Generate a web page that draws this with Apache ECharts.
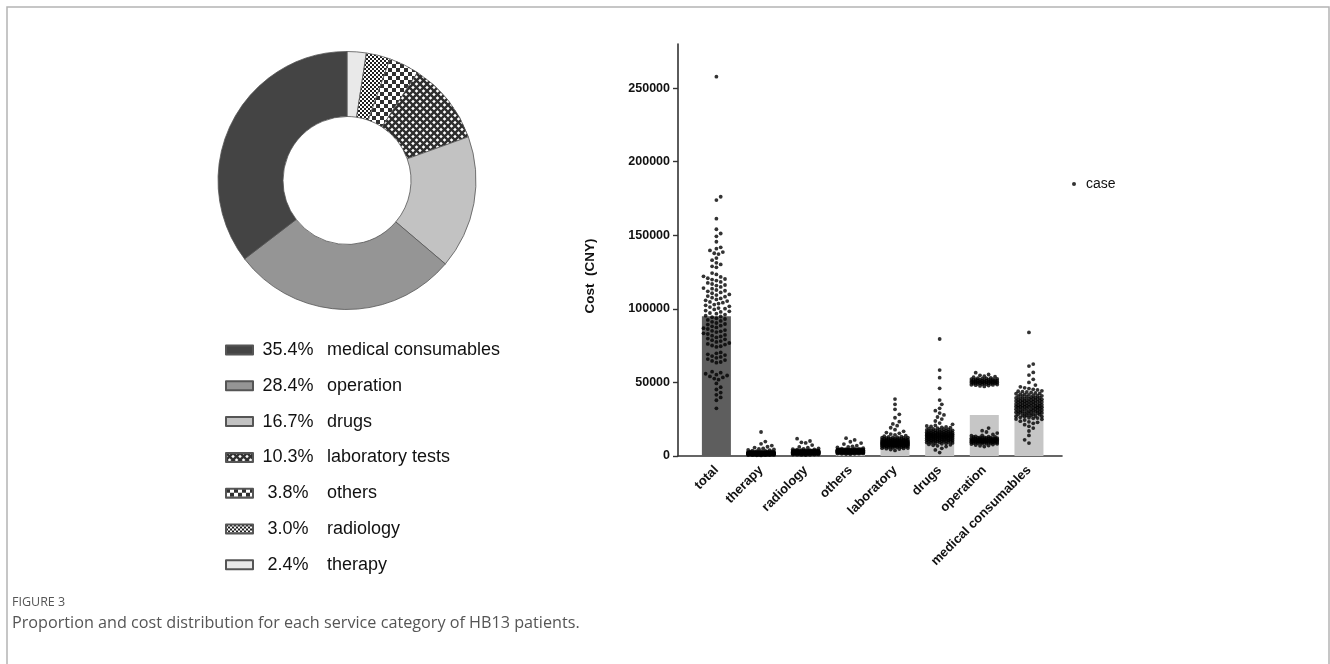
<!DOCTYPE html>
<html>
<head>
<meta charset="utf-8">
<script src="https://cdn.jsdelivr.net/npm/echarts@6.0.0/dist/echarts.min.js"></script>
<style>
  html, body { margin: 0; padding: 0; background: #fff; }
  #chart { width: 1330px; height: 664px; }
</style>
</head>
<body>
<div id="chart"></div>
<script>
// Share of total cost by service category (donut, legend order)
const shareNames = ['medical consumables', 'operation', 'drugs', 'laboratory tests', 'others', 'radiology', 'therapy'];
const shareValues = [35.4, 28.4, 16.7, 10.3, 3.8, 3.0, 2.4];

// Cost distribution per case (scatter over mean bars)
const categories = ['total', 'therapy', 'radiology', 'others', 'laboratory', 'drugs', 'operation', 'medical consumables'];
const meanCost = [95000, 2300, 2900, 3600, 9300, 15600, 27800, 34000];
const yTicks = [0, 50000, 100000, 150000, 200000, 250000];

const totalCost = [
  257800, 176200, 173900, 161300, 154100, 151200, 149300, 145600,
  141800, 140900, 139700, 138600, 137800, 137200,
  134500, 133100, 131300, 130200, 128900, 128200,
  124300, 123400, 122100, 121700, 120800, 120300, 119900, 119200,
  118300, 117600, 116900, 116200, 115800, 114900, 114100, 113700, 112800, 112300, 111900, 111200,
  110600, 109800, 109400, 108700, 108300, 107600, 107100, 106400, 105800, 105300, 104700, 104200, 103600,
  102900, 102400, 101700, 101200, 100500, 100100, 99600, 98800, 98300, 97900, 97200, 96700, 96100,
  95400, 94800, 94300, 93600, 93100, 92500, 91800, 91200,
  90400, 89700, 89300, 88600, 88100, 87400, 86900, 86300, 85600, 85100, 84700, 84200, 83400, 82900, 82300, 81800, 81200, 80600,
  79800, 79300, 78700, 78100, 77500, 76800, 76200, 75700, 75100, 74600, 74100,
  70400, 69800, 69100, 68600, 67900, 67300, 66700, 65900, 65200, 64600, 63900, 63400,
  57300, 56600, 55900, 55300, 54700, 54100, 53400, 52600, 51900,
  49300, 46800, 45200, 43100, 41600, 39800, 37900,
  32400
];
const therapyCost = [
  1820, 2410, 960, 1370, 3100, 2250, 1540, 780, 1960, 2730,
  1180, 16300, 2050, 1460, 890, 2600, 1730, 3480, 1250, 2140,
  650, 1890, 2320, 1010, 4420, 1620, 2870, 1330, 2080, 540,
  1760, 2490, 1110, 9800, 1940, 1420, 2210, 830, 3250, 1680,
  2560, 1290, 1850, 720, 2010, 5200, 1570, 2380, 1060, 1910,
  2690, 1390, 450, 1780, 2170, 1220, 3640, 1500, 2030, 920,
  2290, 1640, 7100, 1350, 2450, 1030, 1870, 2790, 1190, 610,
  1990, 1480, 2340, 870, 3920, 1710, 2120, 1270, 2620, 1560,
  380, 1830, 2260, 1140, 6300, 1440, 2940, 1980, 1080, 1660,
  2530, 760, 2060, 1310, 4780, 1590, 2190, 990, 1800, 2420,
  1230, 3010, 1700, 580, 2100, 1400, 8300, 1920, 2670, 1160,
  1520, 2300, 840, 1860, 3370, 1260, 2000, 1610, 2840, 1050,
  1750, 2480, 1340, 5700, 1950, 1470, 2200, 940, 4100, 1690,
  2360, 1200
];
const radiologyCost = [
  2350, 3120, 1480, 2760, 4050, 1890, 2980, 1240, 3560, 2210,
  11800, 2640, 1720, 3330, 900, 2470, 3870, 1960, 2810, 1350,
  3010, 2180, 4420, 1610, 2920, 1090, 3440, 2520, 1830, 8900,
  2700, 1400, 3210, 2040, 4850, 1570, 2590, 3690, 1170, 2290,
  3080, 1930, 2750, 760, 3390, 2110, 5600, 1680, 2880, 2430,
  1270, 3610, 2000, 2680, 1520, 3150, 7400, 1850, 2560, 3960,
  1030, 2330, 2950, 1760, 3270, 2140, 630, 2840, 1990, 3500,
  2480, 1440, 3050, 6200, 2220, 1640, 2790, 3740, 1310, 2600,
  1910, 3180, 2380, 850, 4300, 1790, 2910, 2060, 3410, 1550,
  2720, 10200, 1880, 2510, 3290, 1190, 2260, 3830, 1700, 2990,
  2160, 1420, 3110, 5100, 2410, 1960, 2650, 960, 3540, 2090,
  1600, 2860, 3360, 1830, 2550, 4650, 1250, 3020, 2200, 1740,
  2940, 2440, 1380, 3220, 9300, 2020, 2700, 1120, 3650, 1920,
  2580, 2300
];
const othersCost = [
  3450, 2810, 4120, 1960, 3620, 2390, 4780, 3070, 1540, 3880,
  12100, 2670, 3290, 4450, 2130, 3740, 2950, 1800, 4010, 3160,
  2480, 5300, 3520, 2240, 3930, 1370, 3060, 4620, 2790, 3380,
  9700, 2560, 4200, 3010, 1990, 3710, 2870, 4360, 2330, 3240,
  6100, 2690, 3810, 1650, 3470, 2920, 4070, 2410, 3560, 8100,
  3130, 2040, 3990, 2760, 4540, 3320, 1480, 3660, 2590, 4260,
  3020, 2180, 7000, 3850, 2840, 3400, 1890, 4150, 2520, 3580,
  3210, 4880, 2300, 3760, 2740, 3950, 1720, 3350, 10900, 2930,
  4030, 2460, 3540, 2110, 3690, 5800, 2880, 3280, 4410, 2620,
  3830, 1260, 3180, 2970, 4240, 2370, 3620, 3070, 6600, 2710,
  3490, 4090, 2200, 3900, 2800, 3430, 1930, 4700, 3090, 2540,
  3740, 3250, 4320, 2060, 3590, 2900, 5000, 2430, 3700, 3150,
  4190, 2650, 3360, 1590, 3870, 2990, 4500, 2260, 3520, 8800,
  2780, 3300
];
const laboratoryCost = [
  8450, 11200, 6730, 9580, 13100, 7420, 10350, 5870, 12400, 8910,
  38700, 7080, 9940, 6210, 10880, 15400, 8230, 11650, 4950, 9320,
  35100, 7760, 10120, 8640, 13800, 6480, 9150, 11930, 5410, 8020,
  31700, 10560, 7310, 9740, 12850, 6950, 8770, 16800, 10240, 7590,
  28300, 9060, 11420, 6020, 8360, 14400, 7870, 10690, 9430, 5130,
  23300, 8560, 12080, 7190, 9860, 6590, 11090, 8140, 17900, 9670,
  6850, 10430, 7950, 12700, 4380, 9220, 8690, 11510, 7500, 10010,
  20600, 6320, 9510, 8290, 13450, 7040, 10780, 8840, 5640, 9780,
  11870, 7650, 19200, 8410, 10160, 6700, 9380, 12250, 7830, 8980,
  3760, 10950, 7260, 9620, 15900, 8060, 11300, 6410, 9890, 8520,
  7370, 12950, 5950, 10520, 8730, 14900, 7120, 9270, 11040, 6170,
  8600, 10290, 7700, 21800, 9000, 6900, 11760, 8200, 10070, 5290,
  9470, 7930, 12550, 8380, 26000, 6640, 10840, 9130, 7550, 11590,
  8870, 4700
];
const drugsCost = [
  14200, 11850, 16700, 9430, 13100, 18900, 12450, 7860, 15300, 10900,
  79500, 13800, 17450, 11200, 20100, 8650, 14750, 12900, 16050, 10350,
  58400, 15800, 9950, 13450, 19200, 11600, 6420, 14900, 17900, 12150,
  53200, 10700, 16400, 13250, 8900, 15050, 20800, 11950, 14400, 9600,
  46000, 17100, 12700, 15600, 7300, 13650, 18400, 10150, 14050, 16900,
  38000, 11400, 13950, 5200, 15950, 12300, 19700, 9150, 14600, 17600,
  35100, 12850, 10500, 16250, 8250, 13350, 11750, 18150, 15150, 9850,
  32400, 14300, 21500, 12550, 16550, 10850, 13750, 7650, 15450, 11150,
  30800, 17350, 13050, 9250, 14850, 12050, 19500, 15750, 10650, 13550,
  29200, 16150, 8450, 14150, 11550, 17750, 12600, 4100, 15250, 10050,
  27900, 13200, 18650, 11300, 14650, 9750, 16800, 12950, 6900, 15550,
  26500, 10400, 14000, 17200, 12250, 20400, 11050, 15900, 13300, 9000,
  25100, 16400, 12750, 18200, 10250, 14500, 2300, 13850, 23800, 22400,
  11700, 15000
];
const operationCost = [
  50200, 51300, 49100, 52400, 50700, 48600, 51800, 49800, 53100, 50400,
  47900, 52000, 49400, 51100, 50900, 48300, 52700, 49600, 51500, 50100,
  54200, 49000, 50600, 51900, 48800, 52300, 50300, 49300, 55400, 51200,
  47300, 50800, 52900, 49700, 51600, 48400, 50000, 53600, 49900, 51000,
  56600, 48100, 52200, 50500, 49200, 51400, 53900, 48900, 50900, 52600,
  49500, 51700, 47600, 50300, 54800, 49800,
  10400, 11800, 9300, 12600, 10900, 8700, 11300, 9900, 13400, 10100,
  7800, 12200, 10700, 9500, 11600, 19000, 10200, 8900, 12900, 11000,
  9700, 14600, 10500, 8300, 11900, 9100, 12400, 10800, 6900, 11400,
  9600, 13100, 10300, 8500, 11700, 17200, 10000, 9200, 12100, 10600,
  8100, 11200, 9800, 13800, 10400, 7400, 12700, 9400, 11500, 10900,
  15600, 9000, 12300, 10200, 8800, 11100, 9900, 13000, 7100, 10700,
  11800, 9500, 12500, 10300, 8600, 16300, 10100, 9300, 11300, 6400,
  12000, 10600, 8400, 11600, 9700, 14000
];
const consumablesCost = [
  34500, 29800, 38200, 25600, 41300, 32100, 36900, 27400, 43800, 30700,
  84000, 35600, 22900, 39500, 33300, 28600, 44900, 31500, 37400, 26300,
  62500, 40600, 34000, 24400, 36200, 30100, 42500, 28100, 38800, 33700,
  61100, 27000, 35100, 45800, 31000, 39100, 23700, 37000, 29300, 41900,
  56800, 32600, 36500, 21300, 40000, 34800, 27800, 43200, 30400, 38500,
  55000, 25100, 33900, 37800, 29000, 42000, 35400, 31800, 20200, 39800,
  52100, 36700, 28400, 44300, 32900, 26800, 40900, 34200, 30000, 37200,
  50000, 19000, 38000, 31200, 42800, 35800, 24900, 33000, 46300, 29500,
  48200, 37600, 32400, 27200, 41000, 34600, 22200, 39400, 36000, 30900,
  47000, 17000, 35200, 43500, 28800, 38900, 33500, 26000, 40300, 31700,
  14000, 36400, 29900, 44000, 34100, 23200, 39000, 32300, 37900, 27600,
  11000, 41600, 35000, 30200, 45300, 33100, 28300, 38300, 25800, 36800,
  8800, 42300, 31400, 39700, 34400, 26600, 37100, 29700, 40700, 33600,
  32800, 35300
];
const caseCosts = [totalCost, therapyCost, radiologyCost, othersCost, laboratoryCost, drugsCost, operationCost, consumablesCost];

// ---- layout of the bar/scatter panel ----
const W = 1330, H = 664;
const GRID = { left: 678, right: 268, top: 44, bottom: 208 };
const X_MIN = -0.86, X_MAX = 7.74, Y_MAX = 280000;
const pxPerX = (W - GRID.left - GRID.right) / (X_MAX - X_MIN);
const pxPerY = (H - GRID.top - GRID.bottom) / Y_MAX;

// Beeswarm placement: spread points sideways so they do not overlap,
// capped at the bar half-width (dense groups then pile up).
function swarm(values, catIndex) {
  const D = 4.3, STEP = 2.15, MAXW = 14;
  const sorted = values.slice().sort((a, b) => a - b);
  const placed = [];
  const out = [];
  sorted.forEach((v, n) => {
    const py = v * pxPerY;
    const sign = n % 2 === 0 ? 1 : -1;
    let best = 0, bestScore = -1, found = false;
    for (let k = 0; k * STEP <= MAXW && !found; k++) {
      const cands = k === 0 ? [0] : [sign * k * STEP, -sign * k * STEP];
      for (const dx of cands) {
        let minD = Infinity;
        for (const p of placed) {
          if (Math.abs(p.y - py) < D) {
            const dd = Math.hypot(p.x - dx, p.y - py);
            if (dd < minD) minD = dd;
          }
        }
        if (minD >= D) { best = dx; found = true; break; }
        if (minD > bestScore) { bestScore = minD; best = dx; }
      }
    }
    placed.push({ x: best, y: py });
    out.push([catIndex + best / pxPerX, v]);
  });
  return out;
}

// ---- fill patterns for the small donut slices ----
function makePattern(kind) {
  const c = document.createElement('canvas');
  const ctx = c.getContext('2d');
  if (kind === 'fine') {
    c.width = c.height = 4;
    ctx.fillStyle = '#fff'; ctx.fillRect(0, 0, 4, 4);
    ctx.fillStyle = '#1e1e1e';
    ctx.fillRect(0, 0, 2, 2); ctx.fillRect(2, 2, 2, 2);
  } else if (kind === 'check') {
    c.width = c.height = 8;
    ctx.fillStyle = '#fff'; ctx.fillRect(0, 0, 8, 8);
    ctx.fillStyle = '#303030';
    ctx.fillRect(0, 0, 4, 4); ctx.fillRect(4, 4, 4, 4);
  } else {
    c.width = c.height = 7;
    ctx.fillStyle = '#fff'; ctx.fillRect(0, 0, 7, 7);
    ctx.strokeStyle = '#2e2e2e'; ctx.lineWidth = 2.4;
    ctx.beginPath();
    ctx.moveTo(-1, -1); ctx.lineTo(8, 8);
    ctx.moveTo(-1, 8); ctx.lineTo(8, -1);
    ctx.stroke();
  }
  return { image: c, repeat: 'repeat' };
}

const sliceFill = {
  'medical consumables': '#444444',
  'operation': '#959595',
  'drugs': '#c2c2c2',
  'laboratory tests': makePattern('lattice'),
  'others': makePattern('check'),
  'radiology': makePattern('fine'),
  'therapy': '#e9e9e9'
};

// donut runs clockwise from 12 o'clock starting with the smallest share
const pieData = shareNames.map((name, i) => ({
  name, value: shareValues[i], itemStyle: { color: sliceFill[name] }
})).reverse();

const barData = meanCost.map((v, i) => ({
  value: [i, v],
  itemStyle: { color: i === 0 ? '#5e5e5e' : '#c6c6c6' }
}));

let scatterData = [];
caseCosts.forEach((vals, i) => { scatterData = scatterData.concat(swarm(vals, i)); });

const FONT = '"Liberation Sans", Arial, Helvetica, sans-serif';

const chart = echarts.init(document.getElementById('chart'), null, { renderer: 'canvas', width: W, height: H });
chart.setOption({
  animation: false,
  backgroundColor: '#ffffff',
  title: [
    { text: 'FIGURE 3', left: 7, top: 591,
      textStyle: { fontFamily: '"Open Sans", sans-serif', fontSize: 12.5, fontWeight: 'normal', color: '#555' } },
    { text: 'Proportion and cost distribution for each service category of HB13 patients.', left: 7, top: 610,
      textStyle: { fontFamily: '"Open Sans", sans-serif', fontSize: 16.2, fontWeight: 'normal', color: '#555' } }
  ],
  legend: [
    {
      data: shareNames, orient: 'vertical', left: 220, top: 335,
      icon: 'rect', itemWidth: 27, itemHeight: 9, itemGap: 15.8,
      selectedMode: false,
      formatter: name => '{p|' + shareValues[shareNames.indexOf(name)].toFixed(1) + '%}{n|' + name + '}',
      textStyle: {
        fontFamily: FONT, fontSize: 18, color: '#111', lineHeight: 20,
        rich: {
          p: { width: 60, align: 'right', fontFamily: FONT, fontSize: 18, color: '#111' },
          n: { padding: [0, 0, 0, 9], fontFamily: FONT, fontSize: 18, color: '#111' }
        }
      }
    },
    {
      data: ['case'], left: 1067, top: 172, icon: 'circle',
      itemWidth: 4, itemHeight: 4, selectedMode: false,
      textStyle: { fontFamily: FONT, fontSize: 14, color: '#111', padding: [0, 0, 0, 5] }
    }
  ],
  grid: { left: GRID.left, right: GRID.right, top: GRID.top, bottom: GRID.bottom, containLabel: false },
  xAxis: {
    type: 'value', min: X_MIN, max: X_MAX,
    axisLine: { show: true, onZero: false, lineStyle: { color: '#333', width: 1.6 } },
    axisTick: { show: false },
    splitLine: { show: false },
    axisLabel: {
      customValues: categories.map((c, i) => i),
      formatter: v => categories[Math.round(v)],
      rotate: 45, margin: 12,
      fontFamily: FONT, fontSize: 13, fontWeight: 'bold', color: '#111'
    }
  },
  yAxis: {
    type: 'value', min: 0, max: Y_MAX, interval: 50000,
    axisLine: { show: true, onZero: false, lineStyle: { color: '#333', width: 1.6 } },
    axisTick: { show: true, length: 5, customValues: yTicks, lineStyle: { color: '#333', width: 1.4 } },
    splitLine: { show: false },
    axisLabel: {
      customValues: yTicks, margin: 8,
      formatter: v => String(v),
      fontFamily: FONT, fontSize: 12.5, fontWeight: 'bold', color: '#111'
    }
  },
  graphic: [
    { type: 'polyline', silent: true,
      shape: { points: [[7, H], [7, 7], [1329, 7], [1329, H]] },
      style: { stroke: '#b4b4b4', lineWidth: 1.5, fill: null } },
    { type: 'text', x: 590, y: 276, rotation: Math.PI / 2, silent: true,
      style: { text: 'Cost  (CNY)', fontFamily: FONT, fontSize: 13.5, fontWeight: 'bold', fill: '#111',
               textAlign: 'center', textVerticalAlign: 'middle' } }
  ],
  series: [
    {
      type: 'pie', name: 'share', center: [347, 180.5], radius: [64, 129],
      startAngle: 90, clockwise: true, silent: true,
      label: { show: false }, labelLine: { show: false },
      itemStyle: { borderColor: '#555', borderWidth: 0.8 },
      emphasis: { disabled: true },
      data: pieData
    },
    {
      type: 'bar', name: 'mean', barWidth: 29, silent: true, z: 2,
      data: barData
    },
    {
      type: 'scatter', name: 'case', symbol: 'circle', symbolSize: 3.8, z: 3, silent: true,
      itemStyle: { color: '#000' },
      data: scatterData
    }
  ]
});
</script>
</body>
</html>
